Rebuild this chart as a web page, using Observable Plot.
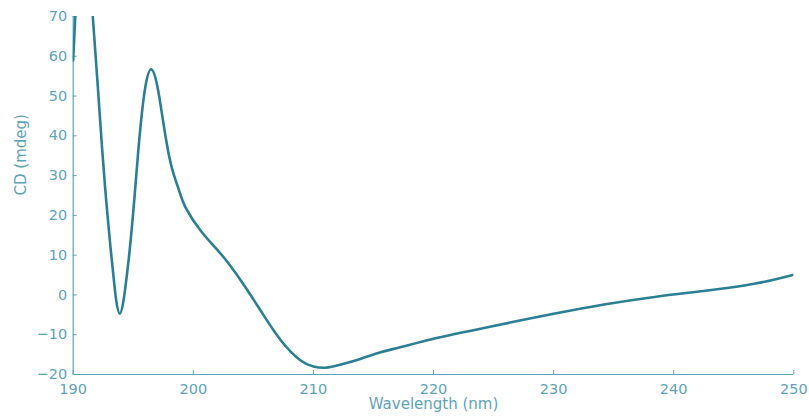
<!DOCTYPE html>
<html>
<head>
<meta charset="utf-8">
<script src="https://cdn.jsdelivr.net/npm/d3@7"></script>
<script src="https://cdn.jsdelivr.net/npm/@observablehq/plot@0.6"></script>
<style>
  html, body { margin: 0; padding: 0; background: #fff; }
  #chart svg { display: block; }
</style>
</head>
<body>
<div id="chart"></div>
<script>
const wavelength = [190.0, 190.17, 190.45, 190.85, 191.25, 191.63, 192.0, 192.42, 192.75, 193.13, 193.42, 193.58, 193.88, 194.19, 194.38, 194.7, 195.08, 195.42, 195.64, 195.98, 196.5, 197.05, 197.5, 197.98, 198.4, 198.9, 199.35, 200.6, 202.28, 203.8, 205.6, 207.3, 208.94, 210.0, 211.0, 212.3, 213.9, 215.6, 217.3, 220.0, 224.5, 230.0, 234.2, 238.4, 242.5, 246.7, 250.0];
const cd = [59, 70, 85, 92, 85, 70, 54.5, 36.3, 23.7, 11.2, 2.8, -1.4, -4.7, -1.4, 2.8, 11.2, 23.7, 36.3, 43.4, 51.8, 56.7, 51.8, 43.4, 35.0, 30.0, 25.5, 22.0, 16.2, 10.35, 4.3, -3.9, -11.45, -16.5, -18.0, -18.3, -17.5, -16.1, -14.4, -13.1, -11.0, -8.1, -4.75, -2.4, -0.5, 1.0, 2.8, 5.1];
const xTicks = [190, 200, 210, 220, 230, 240, 250];
const yTicks = [-20, -10, 0, 10, 20, 30, 40, 50, 60, 70];

const data = wavelength.map((w, i) => ({w, v: cd[i]}));
const lineColor = "#2a7f93";
const axisColor = "#5fa3b8";

const chart = Plot.plot({
  width: 809,
  height: 416,
  marginLeft: 72.7,
  marginRight: 15.7,
  marginTop: 16,
  marginBottom: 42,
  style: {fontFamily: "DejaVu Sans", fontSize: "14px", color: axisColor, background: "#fff"},
  x: {domain: [190, 250]},
  y: {domain: [-20, 70]},
  marks: [
    Plot.ruleX([190], {stroke: axisColor, strokeWidth: 1.2}),
    Plot.ruleY([-20], {stroke: axisColor, strokeWidth: 1.2}),
    Plot.axisX({ticks: xTicks, tickSize: -4, tickPadding: 13, stroke: axisColor, fill: axisColor, fontSize: 14.5, label: null, tickFormat: d => String(d)}),
    Plot.axisY({ticks: yTicks, tickSize: -4, tickPadding: 10, stroke: axisColor, fill: axisColor, fontSize: 14.5, label: null, tickFormat: d => (d < 0 ? "\u2212" + Math.abs(d) : String(d))}),
    Plot.line(data, {x: "w", y: "v", stroke: lineColor, strokeWidth: 2.6, curve: "natural", clip: true}),
    Plot.text(["CD (mdeg)"], {frameAnchor: "left", rotate: -90, dx: -52, fill: axisColor, fontSize: 15}),
    Plot.text(["Wavelength (nm)"], {frameAnchor: "bottom", dy: 34, fill: axisColor, fontSize: 15})
  ]
});
document.getElementById("chart").appendChild(chart);
</script>
</body>
</html>
